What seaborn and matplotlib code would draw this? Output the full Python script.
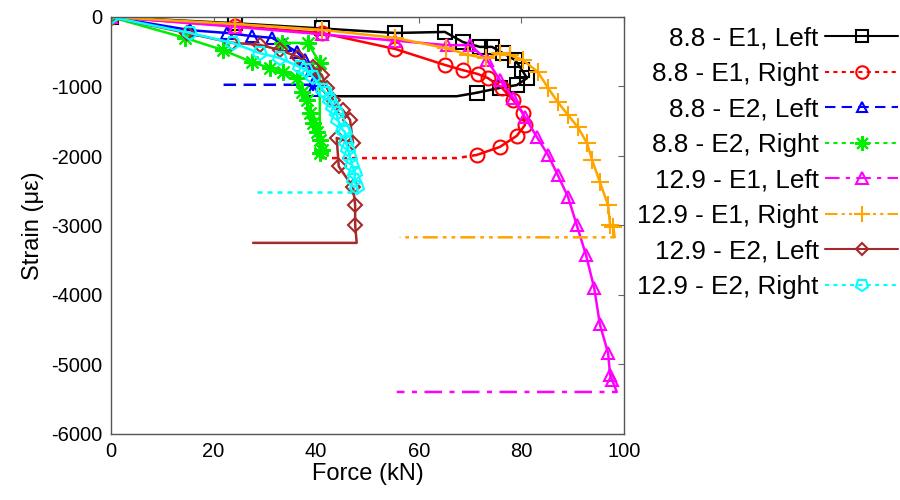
import matplotlib
matplotlib.use("Agg")
import matplotlib.pyplot as plt
import seaborn as sns
import pandas as pd
from matplotlib.lines import Line2D
from matplotlib.markers import MarkerStyle
from matplotlib.transforms import Affine2D

# ---- data (force in kN, strain in micro-strain) ----
labels = ["8.8 - E1, Left", "8.8 - E1, Right", "8.8 - E2, Left", "8.8 - E2, Right",
          "12.9 - E1, Left", "12.9 - E1, Right", "12.9 - E2, Left", "12.9 - E2, Right"]

f_88_e1_left = [0, 24.2, 41.1, 55.4, 65.1, 68.6, 71.9, 74.3, 76.4, 78.8, 80.1, 81.1, 79.1, 75.8, 71.3]
s_88_e1_left = [0, -90, -165, -230, -215, -360, -430, -430, -520, -620, -760, -880, -980, -1020, -1090]
tail_f_88_e1_left = [71.3, 67.4, 43.5]
tail_s_88_e1_left = [-1090, -1140, -1140]

f_88_e1_right = [0, 24.2, 41.1, 55.4, 65.1, 68.6, 71.5, 73.5, 76.2, 78.4, 80.3, 80.7, 79.1, 75.8, 71.3]
s_88_e1_right = [0, -130, -230, -460, -690, -765, -820, -880, -1020, -1195, -1380, -1555, -1710, -1870, -1985]
tail_f_88_e1_right = [71.3, 67.4, 41.1]
tail_s_88_e1_right = [-1985, -2030, -2030]

f_88_e2_left = [0, 15.5, 22.6, 27.5, 31.4, 33.9, 36.3, 37.8, 39.2, 39.8, 39.4]
s_88_e2_left = [0, -190, -230, -275, -300, -400, -505, -620, -765, -905, -1050]
tail_f_88_e2_left = [39.4, 38.8, 20.7]
tail_s_88_e2_left = [-1050, -975, -975]

f_88_e2_right = [0, 14.4, 21.8, 27.5, 31.0, 33.5, 36.3, 37.2, 38.2, 38.8, 39.4, 40.2, 40.7, 41.1,
                 40.7, 40.7, 38.4, 33.3]
s_88_e2_right = [0, -300, -475, -650, -735, -790, -880, -1080, -1195, -1380, -1525, -1655, -1770, -1915,
                 -1955, -660, -375, -370]
tail_f_88_e2_right = []
tail_s_88_e2_right = []

f_129_e1_left = [0, 24.2, 41.1, 55.4, 65.5, 70.0, 73.3, 75.8, 78.4, 80.7, 83.0, 85.2, 87.1, 89.1,
                 90.8, 92.6, 94.2, 95.3, 96.9, 97.3, 97.7]
s_129_e1_left = [0, -140, -250, -340, -405, -405, -620, -905, -1165, -1440, -1725, -1985, -2275, -2590,
                 -2995, -3425, -3900, -4420, -4835, -5150, -5225]
tail_f_129_e1_left = [97.7, 98.6, 55.7]
tail_s_129_e1_left = [-5225, -5395, -5395]

f_129_e1_right = [0, 24.2, 41.1, 55.4, 65.4, 69.6, 73.2, 75.8, 77.8, 80.3, 83.2, 85.2, 87.1, 89.1,
                  91.0, 92.8, 93.8, 95.3, 96.9, 97.3, 97.9]
s_129_e1_right = [0, -100, -185, -300, -450, -545, -595, -520, -545, -620, -790, -1020, -1225, -1410,
                  -1585, -1815, -2060, -2375, -2705, -2995, -3020]
tail_f_129_e1_right = [97.9, 98.2, 56.3]
tail_s_129_e1_right = [-3020, -3170, -3170]

f_129_e2_left = [0, 14.8, 23.5, 29.0, 32.9, 36.5, 39.4, 41.1, 42.1, 43.3, 45.2, 46.6, 47.2, 44.0,
                 44.4, 47.2, 47.6, 47.6]
s_129_e2_left = [0, -230, -370, -400, -475, -575, -720, -835, -1020, -1195, -1340, -1480, -1815, -1740,
                 -2150, -2450, -2705, -2995]
tail_f_129_e2_left = [47.6, 47.9, 27.7]
tail_s_129_e2_left = [-2995, -3250, -3250]

f_129_e2_right = [0, 15.4, 23.8, 29.0, 32.9, 36.8, 38.1, 39.4, 41.3, 42.0, 42.7, 43.3, 44.0, 44.2,
                  45.2, 45.6, 45.8, 46.2, 46.6, 47.0, 47.6, 47.4, 47.9]
s_129_e2_right = [0, -230, -375, -520, -590, -720, -765, -865, -1050, -1100, -1195, -1300, -1380, -1480,
                  -1625, -1655, -1800, -1900, -2015, -2130, -2245, -2350, -2445]
tail_f_129_e2_right = [47.9, 47.9, 28.1]
tail_s_129_e2_right = [-2445, -2515, -2515]

# ---- styling ----
sns.set_theme(style="white")
plt.rcParams["font.family"] = ["Liberation Sans", "DejaVu Sans"]
plt.rcParams["axes.unicode_minus"] = False
plt.rcParams["text.color"] = "black"
plt.rcParams["axes.labelcolor"] = "black"

pent_down = MarkerStyle("p", fillstyle="none", transform=Affine2D().rotate_deg(180))
styles = [
    dict(color="black", ls="-", marker="s", ms=10),
    dict(color="red", ls=(0, (2, 2)), marker="o", ms=10),
    dict(color="blue", ls=(0, (5, 3)), marker="^", ms=8),
    dict(color="#00ee00", ls=(0, (2, 2)), marker=(8, 2, 0), ms=12),
    dict(color="magenta", ls=(0, (7, 3, 2, 3)), marker="^", ms=9),
    dict(color="orange", ls=(0, (6, 2, 1.5, 2, 1.5, 2)), marker="+", ms=13),
    dict(color="#a52a2a", ls="-", marker="D", ms=7),
    dict(color="cyan", ls=(0, (2, 2)), marker=pent_down, ms=10),
]

series = [
    (f_88_e1_left, s_88_e1_left, tail_f_88_e1_left, tail_s_88_e1_left),
    (f_88_e1_right, s_88_e1_right, tail_f_88_e1_right, tail_s_88_e1_right),
    (f_88_e2_left, s_88_e2_left, tail_f_88_e2_left, tail_s_88_e2_left),
    (f_88_e2_right, s_88_e2_right, tail_f_88_e2_right, tail_s_88_e2_right),
    (f_129_e1_left, s_129_e1_left, tail_f_129_e1_left, tail_s_129_e1_left),
    (f_129_e1_right, s_129_e1_right, tail_f_129_e1_right, tail_s_129_e1_right),
    (f_129_e2_left, s_129_e2_left, tail_f_129_e2_left, tail_s_129_e2_left),
    (f_129_e2_right, s_129_e2_right, tail_f_129_e2_right, tail_s_129_e2_right),
]

fig = plt.figure(figsize=(9, 5), dpi=100)
ax = fig.add_axes([0.1233, 0.132, 0.570, 0.834])

handles = []
for (f, s, tf, ts), st in zip(series, styles):
    if len(tf):
        # unloading part, drawn in the series' own line style
        ax.plot(tf, ts, color=st["color"], ls=st["ls"], lw=1.8)
    df = pd.DataFrame({"force": f, "strain": s})
    sns.lineplot(data=df, x="force", y="strain", ax=ax, sort=False, estimator=None,
                 color=st["color"], lw=1.8, marker=st["marker"], markersize=st["ms"],
                 markerfacecolor="none", markeredgecolor=st["color"], markeredgewidth=1.5)
    handles.append(Line2D([], [], color=st["color"], ls=st["ls"], lw=1.5, marker=st["marker"],
                          markersize=st["ms"] * 0.9, markerfacecolor="none",
                          markeredgecolor=st["color"], markeredgewidth=1.5))

ax.set_xlim(0, 100)
ax.set_ylim(-6000, 0)
ax.set_xticks(range(0, 101, 20))
ax.set_yticks(range(-6000, 1, 1000))
ax.tick_params(direction="in", top=True, right=True, length=4, width=0.8,
               colors="#666666", labelcolor="black", labelsize=14.5, pad=6)
for sp in ax.spines.values():
    sp.set_color("#555555")
    sp.set_linewidth(1.0)
ax.set_xlabel("Force (kN)", fontsize=17, labelpad=1)
ax.set_ylabel("Strain (με)", fontsize=17, labelpad=5)

fig.legend(handles, labels, loc="upper right", bbox_to_anchor=(0.998, 0.947), frameon=False,
           markerfirst=False, fontsize=18.8, handlelength=2.8, handletextpad=0.25,
           labelspacing=0.44, borderpad=0, borderaxespad=0)

fig.savefig("out.png", dpi=100)
